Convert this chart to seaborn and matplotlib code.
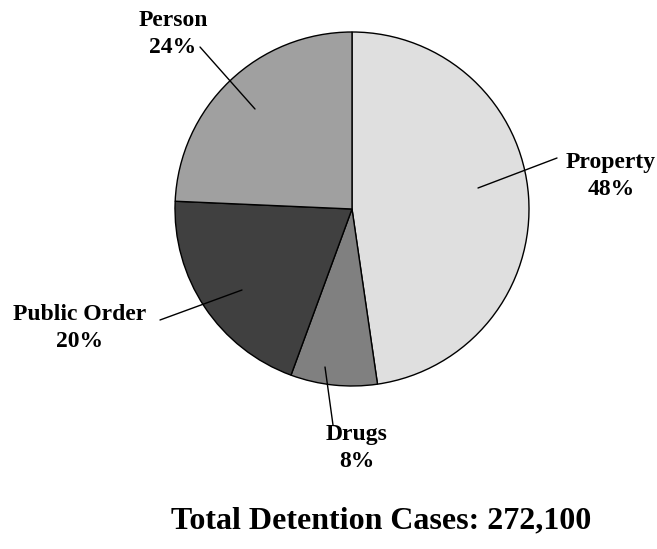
import matplotlib
matplotlib.use("Agg")
import matplotlib.pyplot as plt
import seaborn as sns

sns.set_style("white")
plt.rcParams['font.family'] = ['Liberation Serif', 'DejaVu Serif']
plt.rcParams['text.color'] = 'black'

# data
offenses = ['Property', 'Drugs', 'Public Order', 'Person']
shares = [47.7, 7.9, 20.1, 24.3]
pct_labels = ['48%', '8%', '20%', '24%']
colors = ['#dfdfdf', '#808080', '#404040', '#a0a0a0']
total_label = 'Total Detention Cases: 272,100'

H = 549
fig = plt.figure(figsize=(6.57, 5.49), dpi=100)
ax = fig.add_axes([0, 0, 1, 1])

ax.pie(shares, colors=colors, startangle=90, counterclock=False,
       center=(352, H - 209), radius=177, frame=True,
       wedgeprops=dict(edgecolor='black', linewidth=1))
ax.set_xlim(0, 657)
ax.set_ylim(0, H)
ax.axis('off')

# leader lines: (point in wedge) -> (near label), label centre
leaders = {
    'Property': ((478, 188), (557, 158), (611, 176)),
    'Drugs': ((325, 367), (333, 425), (357, 448)),
    'Public Order': ((242, 290), (160, 320), (80, 328)),
    'Person': ((255, 109), (200, 47), (173, 34)),
}
for name, pct in zip(offenses, pct_labels):
    p0, p1, c = leaders[name]
    ax.plot([p0[0], p1[0]], [H - p0[1], H - p1[1]], color='black', lw=1)
    ax.text(c[0], H - c[1], f'{name}\n{pct}', ha='center', va='center',
            fontsize=17, fontweight='bold', linespacing=1.38, color='black')

ax.text(381, H - 521, total_label, ha='center', va='center',
        fontsize=23, fontweight='bold', color='black')

fig.savefig('out.png', dpi=100)
